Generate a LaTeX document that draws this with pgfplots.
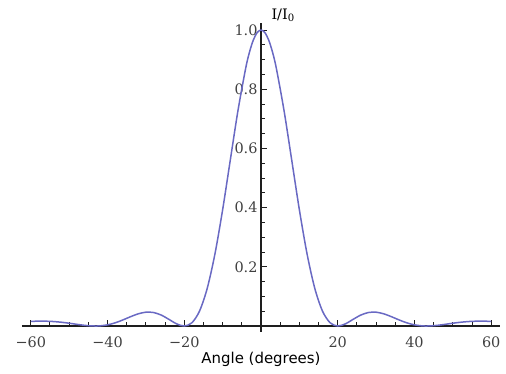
\documentclass[border=0pt]{standalone}
\usepackage{fontspec}
\setmainfont{DejaVu Serif}
\newfontfamily\labelfont{DejaVu Sans}
\usepackage{pgfplots}
\pgfplotsset{compat=1.18}
\definecolor{curve}{RGB}{105,105,195}
\definecolor{axcol}{RGB}{30,30,30}
\pgfplotstableread{
x y
-60 0.01564
-58 0.01641
-56 0.01628
-54 0.01506
-52 0.01272
-50 0.00945
-48 0.00573
-46 0.00232
-44 0.00023
-43.16 0
-42 0.00049
-40 0.00393
-38 0.01080
-36 0.02052
-34 0.03149
-32 0.04120
-30 0.04674
-28 0.04562
-26 0.03694
-24 0.02247
-22 0.00734
-20 0
-18 0.01106
-16 0.05117
-14 0.12808
-12 0.24388
-10 0.39285
-8 0.56108
-6 0.72810
-4 0.87043
-3 0.92530
-2 0.96621
-1 0.99146
0 1
1 0.99146
2 0.96621
3 0.92530
4 0.87043
6 0.72810
8 0.56108
10 0.39285
12 0.24388
14 0.12808
16 0.05117
18 0.01106
20 0
22 0.00734
24 0.02247
26 0.03694
28 0.04562
30 0.04674
32 0.04120
34 0.03149
36 0.02052
38 0.01080
40 0.00393
42 0.00049
43.16 0
44 0.00023
46 0.00232
48 0.00573
50 0.00945
52 0.01272
54 0.01506
56 0.01628
58 0.01641
60 0.01564
}\datatable
\begin{document}
\begin{tikzpicture}
\begin{axis}[
  scale only axis,
  width=478bp, height=309.3bp,
  xmin=-62.3, xmax=62.3,
  ymin=-0.02, ymax=1.025,
  axis lines=middle,
  axis line style={-, axcol, line width=1.4bp},
  clip=false,
  tick align=inside,
  tick style={axcol, line width=1bp},
  major tick length=6bp,
  minor tick length=4bp,
  xtick={-60,-40,-20,20,40,60},
  xticklabels={−60,−40,−20,20,40,60},
  minor xtick={-55,-50,-45,-35,-30,-25,-15,-10,-5,5,10,15,25,30,35,45,50,55},
  ytick={0.2,0.4,0.6,0.8,1.0},
  yticklabels={0.2,0.4,0.6,0.8,1.0},
  minor ytick={0.05,0.1,0.15,0.25,0.3,0.35,0.45,0.5,0.55,0.65,0.7,0.75,0.85,0.9,0.95},
  ticklabel style={font=\fontsize{14.5}{17}\selectfont, text=black!75},
  xticklabel style={anchor=base, yshift=-21.5bp},
  xlabel={Angle (degrees)},
  x label style={at={(axis cs:0,-0.128)}, anchor=base, font=\labelfont\fontsize{15}{18}\selectfont},
  ylabel={I/I\textsubscript{0}},
  y label style={at={(axis cs:0,1.025)}, anchor=base west, rotate=0, xshift=7bp, yshift=3.6bp, font=\fontsize{14.5}{17}\selectfont},
]
\addplot[curve, line width=1.5bp, smooth] table[x=x, y=y] {\datatable};
\path (axis cs:-68.03,-0.1588) rectangle (axis cs:63.86,1.1014);
\end{axis}
\end{tikzpicture}
\end{document}
